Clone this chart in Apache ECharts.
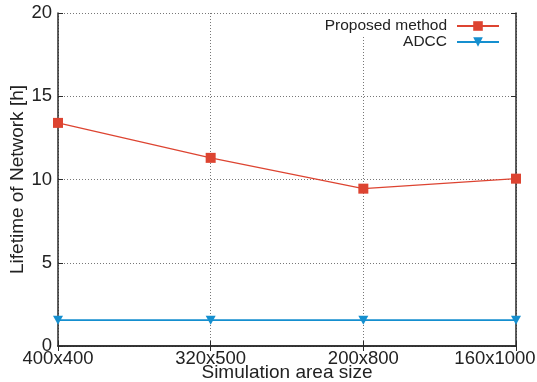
<!DOCTYPE html>
<html>
<head>
<meta charset="utf-8">
<script src="https://cdn.jsdelivr.net/npm/echarts@6/dist/echarts.min.js"></script>
<style>
  html, body { margin: 0; padding: 0; background: #fff; }
  #chart { width: 537px; height: 382px; }
</style>
</head>
<body>
<div id="chart"></div>
<script>
// Network lifetime for each simulation area size
const areaSizes = ['400x400', '320x500', '200x800', '160x1000'];
const proposedLifetime = [13.4, 11.3, 9.45, 10.05];
const adccLifetime = [1.55, 1.55, 1.55, 1.55];
const yTicks = [0, 5, 10, 15, 20];

const FONT = '"Liberation Sans", Arial, sans-serif';
const RED = '#dd4431';
const BLUE = '#158fcf';
const AXIS = '#2a2a2a';

const chart = echarts.init(document.getElementById('chart'), null, { renderer: 'canvas' });

const gridDotted = { show: true, interval: 0, lineStyle: { color: '#777', type: [1, 2], width: 1 } };
const lastArea = areaSizes[areaSizes.length - 1];

chart.setOption({
  animation: false,
  backgroundColor: '#fff',
  grid: { left: 58, right: 21, top: 13, bottom: 36, containLabel: false, outerBoundsMode: 'none' },
  legend: [
    {
      data: ['Proposed method'],
      orient: 'vertical',
      right: 32, top: 16,
      align: 'right',
      itemWidth: 42, itemHeight: 12,
      padding: [2, 5, 2, 5],
      backgroundColor: '#fff',
      textStyle: { fontFamily: FONT, fontSize: 15.5, color: '#222', padding: [0, 5, 0, 0] }
    },
    {
      data: ['ADCC'],
      orient: 'vertical',
      right: 32, top: 32,
      align: 'right',
      itemWidth: 42, itemHeight: 12,
      padding: [2, 5, 6, 5],
      backgroundColor: '#fff',
      textStyle: { fontFamily: FONT, fontSize: 15.5, color: '#222', padding: [0, 5, 0, 0] }
    }
  ],
  xAxis: [
    {
      type: 'category',
      data: areaSizes,
      boundaryGap: false,
      name: 'Simulation area size',
      nameLocation: 'middle',
      nameGap: 17,
      nameMoveOverlap: false,
      nameTextStyle: { fontFamily: FONT, fontSize: 19, color: '#222' },
      axisLine: { lineStyle: { color: AXIS, width: 1.5 } },
      axisTick: { inside: true, length: 5, interval: 0, lineStyle: { color: AXIS } },
      axisLabel: {
        interval: 0,
        hideOverlap: false,
        fontFamily: FONT, fontSize: 18.5, color: '#222', margin: 3,
        // keep the last label inside the canvas
        formatter: v => (v === lastArea ? '{edge|' + v + '}' : v),
        rich: { edge: { fontFamily: FONT, fontSize: 18.5, color: '#222', padding: [0, 42, 0, 0] } }
      },
      splitLine: gridDotted
    },
    {
      type: 'category',
      data: areaSizes,
      boundaryGap: false,
      position: 'top',
      axisLine: { lineStyle: { color: AXIS, width: 1.5 } },
      axisTick: { inside: true, length: 5, interval: 0, lineStyle: { color: AXIS } },
      axisLabel: { show: false },
      splitLine: { show: false }
    }
  ],
  yAxis: [
    {
      type: 'value',
      min: yTicks[0], max: yTicks[yTicks.length - 1], interval: 5,
      name: 'Lifetime of Network [h]',
      nameLocation: 'middle',
      nameGap: 31,
      nameMoveOverlap: false,
      nameTextStyle: { fontFamily: FONT, fontSize: 19, color: '#222' },
      axisLine: { show: true, lineStyle: { color: AXIS, width: 1.5 } },
      axisTick: { show: true, inside: true, length: 5, lineStyle: { color: AXIS } },
      axisLabel: { fontFamily: FONT, fontSize: 18.5, color: '#222', margin: 6 },
      splitLine: gridDotted
    },
    {
      type: 'value',
      position: 'right',
      min: yTicks[0], max: yTicks[yTicks.length - 1], interval: 5,
      axisLine: { show: true, lineStyle: { color: AXIS, width: 1.5 } },
      axisTick: { show: true, inside: true, length: 5, lineStyle: { color: AXIS } },
      axisLabel: { show: false },
      splitLine: { show: false }
    }
  ],
  series: [
    {
      name: 'Proposed method',
      type: 'line',
      data: proposedLifetime,
      symbol: 'rect',
      symbolSize: 10,
      color: RED,
      lineStyle: { color: RED, width: 1.2 },
      itemStyle: { color: RED },
      z: 3
    },
    {
      name: 'ADCC',
      type: 'line',
      data: adccLifetime,
      symbol: 'triangle',
      symbolRotate: 180,
      symbolSize: [10, 9],
      color: BLUE,
      lineStyle: { color: BLUE, width: 1.8 },
      itemStyle: { color: BLUE },
      z: 3
    }
  ]
});
</script>
</body>
</html>
